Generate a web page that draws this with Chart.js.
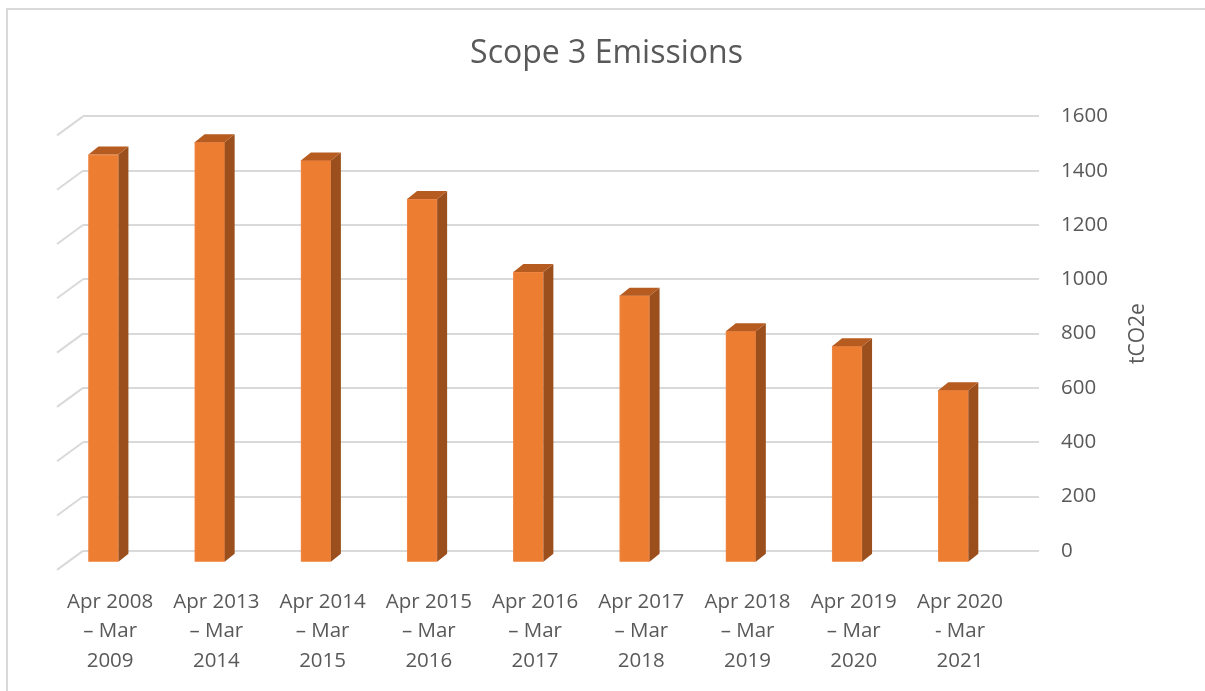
<!DOCTYPE html>
<html>
<head>
<meta charset="utf-8">
<script src="https://cdn.jsdelivr.net/npm/chart.js@4"></script>
<style>
	body { margin: 0; background: #fff; }
	canvas { display: block; }
</style>
</head>
<body>
<canvas id="chart" width="1205" height="691"></canvas>
<script>
const categories = [
	['Apr 2008', '\u2013 Mar', '2009'],
	['Apr 2013', '\u2013 Mar', '2014'],
	['Apr 2014', '\u2013 Mar', '2015'],
	['Apr 2015', '\u2013 Mar', '2016'],
	['Apr 2016', '\u2013 Mar', '2017'],
	['Apr 2017', '\u2013 Mar', '2018'],
	['Apr 2018', '\u2013 Mar', '2019'],
	['Apr 2019', '\u2013 Mar', '2020'],
	['Apr 2020', '- Mar', '2021']
];
const emissions = [1504, 1549, 1482, 1340, 1071, 984, 853, 798, 636];
const yTicks = [0, 200, 400, 600, 800, 1000, 1200, 1400, 1600];

const titleText = 'Scope 3 Emissions';
const axisTitle = 'tCO2e';

const textColor = '#595959';
const gridColor = '#d9d9d9';
const font = "'Open Sans', 'Noto Sans', sans-serif";

// oblique "3D" look: back wall depth and bar offset
const wallDX = 26, wallDY = 19;
const barDX = -32.7, barDY = 12;
const capDX = 10, capDY = 8;

const fakeDepth = {
	id: 'fakeDepth',
	beforeDraw(chart) {
		const ctx = chart.ctx;
		ctx.save();
		ctx.strokeStyle = gridColor;
		ctx.lineWidth = 2;
		ctx.strokeRect(7, 9, chart.width + 10, chart.height + 10);
		ctx.restore();
	},
	beforeDatasetsDraw(chart) {
		const ctx = chart.ctx;
		const y = chart.scales.y;
		const left = chart.chartArea.left;
		// the side wall diagonals
		ctx.save();
		ctx.strokeStyle = gridColor;
		ctx.lineWidth = 2;
		yTicks.forEach(v => {
			const py = y.getPixelForValue(v);
			ctx.beginPath();
			ctx.moveTo(left - wallDX, py + wallDY);
			ctx.lineTo(left, py);
			ctx.stroke();
		});
		ctx.restore();

		ctx.save();
		ctx.translate(barDX, barDY);
	},
	afterDatasetsDraw(chart) {
		const ctx = chart.ctx;
		const meta = chart.getDatasetMeta(0);
		meta.data.forEach(bar => {
			const l = bar.x - bar.width / 2;
			const r = bar.x + bar.width / 2;
			// side
			ctx.fillStyle = '#9b4f1d';
			ctx.beginPath();
			ctx.moveTo(r, bar.y);
			ctx.lineTo(r + capDX, bar.y - capDY);
			ctx.lineTo(r + capDX, bar.base - capDY);
			ctx.lineTo(r, bar.base);
			ctx.closePath();
			ctx.fill();
			// top
			ctx.fillStyle = '#b75c21';
			ctx.beginPath();
			ctx.moveTo(l, bar.y);
			ctx.lineTo(l + capDX, bar.y - capDY);
			ctx.lineTo(r + capDX, bar.y - capDY);
			ctx.lineTo(r, bar.y);
			ctx.closePath();
			ctx.fill();
		});
		ctx.restore();
	},
	afterDraw(chart) {
		const ctx = chart.ctx;
		const area = chart.chartArea;
		ctx.save();
		ctx.fillStyle = textColor;
		ctx.font = '21px ' + font;
		ctx.textAlign = 'center';
		ctx.textBaseline = 'middle';
		ctx.translate(1138, (area.top + area.bottom) / 2);
		ctx.rotate(-Math.PI / 2);
		ctx.fillText(axisTitle, 0, 0);
		ctx.restore();
	}
};

const ctx = document.getElementById('chart').getContext('2d');
const myChart = new Chart(ctx, {
	type: 'bar',
	data: {
		labels: categories,
		datasets: [{
			label: 'Scope 3',
			data: emissions,
			backgroundColor: '#ed7d31',
			borderColor: '#f0894a',
			borderWidth: 1,
			barThickness: 30
		}]
	},
	options: {
		responsive: false,
		animation: false,
		devicePixelRatio: 1,
		layout: {
			padding: { top: 35, left: 83, right: 75, bottom: -21 }
		},
		plugins: {
			legend: { display: false },
			tooltip: { enabled: false },
			title: {
				display: true,
				text: titleText,
				color: textColor,
				font: { family: font, size: 32, weight: 'normal', lineHeight: 1.2 },
				padding: { top: 0, bottom: 43 }
			}
		},
		scales: {
			x: {
				grid: { display: false, drawTicks: false },
				border: { display: false },
				ticks: {
					color: textColor,
					font: { family: font, size: 20.5, lineHeight: 1.45 },
					padding: 36,
					labelOffset: -26,
					maxRotation: 0,
					autoSkip: false
				}
			},
			y: {
				position: 'right',
				min: 0,
				max: 1600,
				afterBuildTicks: axis => {
					axis.ticks = yTicks.map(v => ({ value: v }));
				},
				grid: { color: gridColor, lineWidth: 2, drawTicks: false },
				border: { display: false },
				ticks: {
					color: textColor,
					font: { family: font, size: 20.5 },
					padding: 22,
					callback: v => String(v)
				}
			}
		}
	},
	plugins: [fakeDepth]
});
</script>
</body>
</html>
